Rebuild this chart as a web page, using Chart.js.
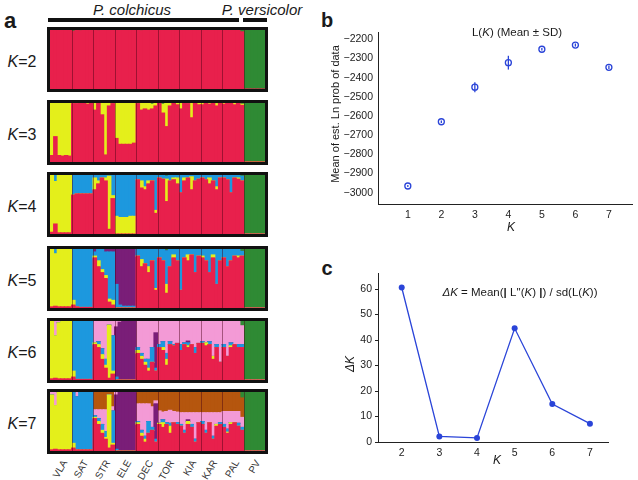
<!DOCTYPE html>
<html>
<head>
<meta charset="utf-8">
<script src="https://cdn.jsdelivr.net/npm/chart.js@4.4.1/dist/chart.umd.min.js"></script>
<style>
    body { margin: 0; background: #fff; font-family: "Liberation Sans", Arial, sans-serif; color: #1a1a1a; }
    #page { position: relative; width: 638px; height: 480px; overflow: hidden; }
    .abs { position: absolute; white-space: nowrap; }
    .c { transform: translate(-50%, -50%); }
    .box { position: absolute; left: 47px; width: 215px; height: 59px; border: 3px solid #111; }
    .box canvas { display: block; }
    .klab { position: absolute; font-size: 16px; transform: translate(-50%, -50%); }
    .pop { position: absolute; width: 50px; text-align: right; font-size: 10px; line-height: 12px; color: #333;
           transform-origin: 100% 50%; transform: rotate(-60deg); }
    .panel { position: absolute; font-weight: bold; }
</style>
</head>
<body>
<div id="page">
    <div class="panel abs c" style="left:10px; top:21px; font-size:22px;">a</div>
    <div class="panel abs c" style="left:327px; top:20px; font-size:20px;">b</div>
    <div class="panel abs c" style="left:327px; top:268px; font-size:20px;">c</div>

    <div class="abs c" style="left:132px; top:9px; font-size:15px; font-style:italic;">P. colchicus</div>
    <div class="abs c" style="left:262px; top:9px; font-size:15px; font-style:italic;">P. versicolor</div>
    <div class="abs" style="left:48px; top:18px; width:191px; height:4px; background:#111;"></div>
    <div class="abs" style="left:243px; top:18px; width:24px; height:4px; background:#111;"></div>

    <div id="structure"></div>
    <div id="popLabels"></div>

    <canvas id="lnChart" width="308" height="240" style="position:absolute; left:330px; top:0;"></canvas>
    <canvas id="deltaChart" width="308" height="240" style="position:absolute; left:330px; top:240px;"></canvas>

    <div class="abs c" style="left:517px; top:32px; font-size:11.5px;">L(<i>K</i>) (Mean ± SD)</div>
    <div class="abs c" style="left:335px; top:114px; font-size:11px; transform:translate(-50%,-50%) rotate(-90deg);">Mean of est. Ln prob of data</div>
    <div class="abs c" style="left:511px; top:227px; font-size:12px; font-style:italic;">K</div>

    <div class="abs c" style="left:520px; top:292px; font-size:11.5px;"><i>ΔK</i> = Mean(<b>|</b> L''(<i>K</i>) <b>|</b>) / sd(L(<i>K</i>))</div>
    <div class="abs c" style="left:350px; top:364px; font-size:12px; font-style:italic; transform:translate(-50%,-50%) rotate(-90deg);">ΔK</div>
    <div class="abs c" style="left:497px; top:460px; font-size:12px; font-style:italic;">K</div>
</div>

<script>
// populations, 6 individuals drawn per population
const populations = ['VLA', 'SAT', 'STR', 'ELE', 'DEC', 'TOR', 'KIA', 'KAR', 'PAL', 'PV'];
const perPop = 6;

const clusterColors = {
    red: '#e8204c', yellow: '#e4ef1b', blue: '#1d98de', purple: '#7a1e78',
    pink: '#f39ad6', brown: '#b5560e', green: '#2f8a34'
};

// membership (%) per individual, order VLA .. PV
const k2Red = [100,100,100,100,100,100, 98,100,99,100,100,100, 100,99,100,100,100,100, 100,100,100,100,100,100, 100,99,100,100,100,100, 100,100,100,100,100,100, 100,100,100,100,100,100, 100,100,100,100,100,100, 100,100,100,100,100,97, 0,0,0,0,0,0];
const k2Green = [0,0,0,0,0,0, 2,0,1,0,0,0, 0,1,0,0,0,0, 0,0,0,0,0,0, 0,1,0,0,0,0, 0,0,0,0,0,0, 0,0,0,0,0,0, 0,0,0,0,0,0, 0,0,0,0,0,3, 100,100,100,100,100,100];

const k3Red = [11,43,11,10,11,10, 99,99,100,100,98,100, 88,100,80,12,95,99, 40,30,30,30,30,32, 99,88,90,88,90,95, 100,83,60,95,100,97, 90,100,99,75,100,97, 97,100,98,100,95,100, 98,100,100,97,100,96, 0,0,0,0,0,0];
const k3Yellow = [89,57,89,90,89,90, 0,0,0,0,2,0, 12,0,20,88,5,0, 60,70,70,70,70,68, 0,12,10,12,8,5, 0,15,40,5,0,3, 10,0,0,25,0,3, 3,0,2,0,4,0, 2,0,0,3,0,2, 0,0,0,0,0,0];
const k3Green = [0,0,0,0,0,0, 1,1,0,0,0,0, 0,0,0,0,0,1, 0,0,0,0,0,0, 1,0,0,0,2,0, 0,2,0,0,0,0, 0,0,1,0,0,0, 0,0,0,0,1,0, 0,0,0,0,0,2, 100,100,100,100,100,100];

const k4Red = [3,17,2,2,2,2, 66,68,68,68,68,68, 75,85,95,90,8,60, 0,0,0,0,0,0, 92,78,75,85,90,35, 95,93,55,90,92,85, 70,90,95,75,90,93, 95,92,85,90,75,95, 95,92,70,95,93,90, 0,0,0,0,0,0];
const k4Yellow = [97,72,98,98,98,98, 0,0,0,0,0,0, 20,5,0,5,90,5, 30,28,28,28,30,30, 0,12,5,5,0,5, 0,0,38,0,3,10, 0,5,0,22,0,0, 0,0,10,0,5,0, 0,0,0,0,2,0, 0,0,0,0,0,0];
const k4Blue = [0,11,0,0,0,0, 34,32,32,32,32,32, 5,10,5,5,2,35, 70,72,72,72,70,70, 8,10,20,10,10,60, 5,7,5,10,5,5, 30,5,5,3,10,7, 5,8,5,10,20,5, 5,8,30,5,5,8, 0,0,0,0,0,0];
const k4Green = [0,0,0,0,0,0, 0,0,0,0,0,0, 0,0,0,0,0,0, 0,0,0,0,0,0, 0,0,0,0,0,0, 0,0,2,0,0,0, 0,0,0,0,0,0, 0,0,0,0,0,0, 0,0,0,0,0,2, 100,100,100,100,100,100];

const k5Red = [2,3,2,2,2,2, 5,2,1,1,1,1, 85,70,60,50,10,5, 0,0,0,0,0,0, 88,70,75,60,80,30, 85,80,25,70,85,80, 30,85,80,90,60,88, 85,80,60,85,40,80, 85,70,80,88,85,88, 0,0,0,0,0,0];
const k5Yellow = [98,89,98,98,98,98, 8,0,0,0,0,0, 3,10,5,5,5,8, 0,0,0,0,0,0, 0,12,0,10,0,3, 0,0,15,0,5,0, 0,0,10,0,0,0, 3,0,0,5,0,0, 0,0,0,0,3,0, 0,0,0,0,0,0];
const k5Blue = [0,8,0,0,0,0, 87,98,99,99,99,99, 7,20,35,40,80,82, 40,5,3,3,3,3, 12,18,25,30,20,67, 15,20,57,30,10,20, 70,15,10,10,40,12, 12,20,40,10,60,20, 15,30,20,12,12,8, 0,0,0,0,0,0];
const k5Purple = [0,0,0,0,0,0, 0,0,0,0,0,0, 5,0,0,5,5,5, 60,95,97,97,97,97, 0,0,0,0,0,0, 0,0,0,0,0,0, 0,0,0,0,0,0, 0,0,0,0,0,0, 0,0,0,0,0,0, 0,0,0,0,0,0];
const k5Green = [0,0,0,0,0,0, 0,0,0,0,0,0, 0,0,0,0,0,0, 0,0,0,0,0,0, 0,0,0,0,0,0, 0,0,3,0,0,0, 0,0,0,0,0,0, 0,0,0,0,0,0, 0,0,0,0,0,4, 100,100,100,100,100,100];

const k6Red = [2,3,2,2,2,2, 5,1,1,1,1,1, 60,55,35,20,3,10, 0,0,0,0,0,0, 45,35,25,15,30,15, 55,50,25,60,58,62, 50,60,55,60,45,62, 62,58,60,35,55,30, 55,40,55,60,55,55, 0,0,0,0,0,0];
const k6Yellow = [98,72,95,98,98,98, 10,0,0,0,0,0, 3,5,8,5,90,5, 0,0,0,0,0,0, 5,5,5,5,0,0, 0,5,10,0,0,0, 0,0,3,0,0,0, 0,5,0,5,0,0, 0,0,3,0,0,0, 0,0,0,0,0,0];
const k6Blue = [0,0,0,0,0,0, 85,99,99,99,99,99, 0,5,10,10,0,60, 5,0,0,0,0,0, 5,5,5,15,25,5, 5,10,10,5,2,0, 10,3,5,0,10,0, 3,0,5,0,5,0, 5,0,5,0,5,5, 0,0,0,0,0,0];
const k6Purple = [0,0,0,0,0,0, 0,0,0,0,0,0, 0,0,0,0,0,0, 85,98,100,100,100,100, 0,0,0,0,0,60, 0,0,0,0,0,0, 0,0,3,0,0,0, 0,0,0,0,0,0, 0,0,0,0,0,0, 0,0,0,0,0,0];
const k6Pink = [0,25,3,0,0,0, 0,0,0,0,0,0, 37,35,47,65,7,25, 10,2,0,0,0,0, 45,55,65,65,45,20, 40,35,55,35,40,38, 40,37,34,40,45,38, 35,37,35,60,40,70, 40,60,37,40,40,32, 0,0,0,0,0,0];
const k6Green = [0,0,0,0,0,0, 0,0,0,0,0,0, 0,0,0,0,0,0, 0,0,0,0,0,0, 0,0,0,0,0,0, 0,0,0,0,0,0, 0,0,0,0,0,0, 0,0,0,0,0,0, 0,0,0,0,0,8, 100,100,100,100,100,100];

const k7Red = [2,3,2,2,2,2, 5,2,2,2,2,2, 55,45,30,20,5,10, 0,0,0,0,0,0, 45,25,15,30,35,15, 45,40,45,30,48,45, 42,30,45,40,15,48, 45,30,48,20,42,45, 40,30,45,48,42,35, 0,0,0,0,0,0];
const k7Yellow = [93,74,98,98,98,98, 8,0,0,0,0,0, 2,5,5,3,90,3, 0,0,0,0,0,0, 3,5,5,0,0,0, 2,8,0,12,0,0, 0,0,5,0,0,0, 0,0,0,0,3,0, 0,2,3,0,0,0, 0,0,0,0,0,0];
const k7Blue = [0,0,0,0,0,0, 87,90,98,98,98,98, 3,5,10,10,0,55, 3,0,0,0,0,0, 2,5,5,20,5,5, 0,5,3,5,0,3, 3,5,0,5,5,0, 5,5,0,5,0,3, 5,5,0,0,5,5, 0,0,0,0,0,0];
const k7Purple = [0,0,0,0,0,0, 0,0,0,0,0,0, 0,0,0,0,0,0, 92,100,100,100,100,100, 0,0,0,0,0,60, 0,0,0,0,0,0, 0,0,3,0,0,0, 0,0,0,0,0,0, 0,0,0,0,0,0, 0,0,0,0,0,0];
const k7Pink = [5,23,0,0,0,0, 0,8,0,0,0,0, 10,15,25,37,0,7, 5,0,0,0,0,0, 30,45,55,30,35,5, 21,13,19,22,19,18, 20,30,12,20,45,17, 15,30,17,40,20,17, 22,30,19,19,20,17, 0,0,0,0,0,0];
const k7Brown = [0,0,0,0,0,0, 0,0,0,0,0,0, 30,30,30,30,5,25, 0,0,0,0,0,0, 20,20,20,20,25,15, 32,34,33,31,33,34, 35,35,35,35,35,35, 35,35,35,35,35,35, 33,33,33,33,33,33, 0,0,0,0,0,0];
const k7Green = [0,0,0,0,0,0, 0,0,0,0,0,0, 0,0,0,0,0,0, 0,0,0,0,0,0, 0,0,0,0,0,0, 0,0,0,0,0,0, 0,0,0,0,0,0, 0,0,0,0,0,0, 0,0,0,0,0,10, 100,100,100,100,100,100];

// panel b: L(K) mean and SD
const kLn = [1, 2, 3, 4, 5, 6, 7];
const lnMean = [-2965, -2630, -2450, -2322, -2252, -2230, -2346];
const lnSd = [5, 6, 26, 36, 6, 8, 9];
const lnTicks = [-3000, -2900, -2800, -2700, -2600, -2500, -2400, -2300, -2200];

// panel c: delta K
const kDelta = [2, 3, 4, 5, 6, 7];
const deltaK = [60.6, 2.2, 1.6, 44.6, 14.9, 7.2];
const deltaTicks = [0, 10, 20, 30, 40, 50, 60];

const runs = [
    { k: 2, top: 27, series: [['red', k2Red], ['green', k2Green]] },
    { k: 3, top: 100, series: [['red', k3Red], ['yellow', k3Yellow], ['green', k3Green]] },
    { k: 4, top: 172, series: [['red', k4Red], ['yellow', k4Yellow], ['blue', k4Blue], ['green', k4Green]] },
    { k: 5, top: 246, series: [['red', k5Red], ['yellow', k5Yellow], ['blue', k5Blue], ['purple', k5Purple], ['green', k5Green]] },
    { k: 6, top: 318, series: [['red', k6Red], ['yellow', k6Yellow], ['blue', k6Blue], ['purple', k6Purple], ['pink', k6Pink], ['green', k6Green]] },
    { k: 7, top: 389, series: [['red', k7Red], ['yellow', k7Yellow], ['blue', k7Blue], ['purple', k7Purple], ['pink', k7Pink], ['brown', k7Brown], ['green', k7Green]] }
];

const lineBlue = '#2a44d8';
Chart.defaults.font.family = '"Liberation Sans", Arial, sans-serif';
Chart.defaults.color = '#222';

const individuals = [];
populations.forEach(p => {
    for (let i = 1; i <= perPop; i++) individuals.push(p + i);
});

// thin dark lines between populations
const popLines = {
    id: 'popLines',
    afterDatasetsDraw(chart) {
        const { ctx, chartArea, scales: { x } } = chart;
        ctx.save();
        ctx.strokeStyle = 'rgba(70,0,20,0.45)';
        ctx.lineWidth = 1;
        for (let p = 1; p < populations.length; p++) {
            const px = Math.round((x.getPixelForValue(p * perPop - 1) + x.getPixelForValue(p * perPop)) / 2) + 0.5;
            ctx.beginPath();
            ctx.moveTo(px, chartArea.top);
            ctx.lineTo(px, chartArea.bottom);
            ctx.stroke();
        }
        ctx.restore();
    }
};

function drawStructure(run) {
    const holder = document.getElementById('structure');
    const box = document.createElement('div');
    box.className = 'box';
    box.style.top = run.top + 'px';
    const canvas = document.createElement('canvas');
    canvas.width = 215;
    canvas.height = 59;
    box.appendChild(canvas);
    holder.appendChild(box);

    const lab = document.createElement('div');
    lab.className = 'klab';
    lab.style.left = '22px';
    lab.style.top = (run.top + 35) + 'px';
    lab.innerHTML = '<i>K</i>=' + run.k;
    holder.appendChild(lab);

    new Chart(canvas, {
        type: 'bar',
        data: {
            labels: individuals,
            datasets: run.series.map(([name, values]) => ({
                label: name,
                data: values,
                backgroundColor: clusterColors[name],
                borderWidth: 0,
                barPercentage: 1,
                categoryPercentage: 1,
                inflateAmount: 0.5
            }))
        },
        options: {
            responsive: false,
            animation: false,
            layout: { padding: 0 },
            plugins: { legend: { display: false }, tooltip: { enabled: false } },
            scales: {
                x: { stacked: true, display: false },
                y: { stacked: true, display: false, min: 0, max: 100 }
            }
        },
        plugins: [popLines]
    });
}

function drawPopLabels() {
    const holder = document.getElementById('popLabels');
    populations.forEach((p, i) => {
        const cx = 50 + 21.5 * (i + 0.5);
        const div = document.createElement('div');
        div.className = 'pop';
        div.style.left = (cx + 4 - 50) + 'px';
        div.style.top = (461 - 6) + 'px';
        div.innerText = p;
        holder.appendChild(div);
    });
}

// vertical SD bars for panel b
const errorBars = {
    id: 'errorBars',
    afterDatasetsDraw(chart) {
        const { ctx, scales: { x, y } } = chart;
        ctx.save();
        ctx.strokeStyle = lineBlue;
        ctx.lineWidth = 1.3;
        kLn.forEach((k, i) => {
            const px = x.getPixelForValue(k);
            ctx.beginPath();
            ctx.moveTo(px, y.getPixelForValue(lnMean[i] - lnSd[i]));
            ctx.lineTo(px, y.getPixelForValue(lnMean[i] + lnSd[i]));
            ctx.stroke();
        });
        ctx.restore();
    }
};

const minusLabel = v => v < 0 ? '\u2212' + Math.abs(v) : String(v);

function renderLnChart() {
    new Chart(document.getElementById('lnChart'), {
        type: 'scatter',
        data: {
            datasets: [{
                data: kLn.map((k, i) => ({ x: k, y: lnMean[i] })),
                pointRadius: 3,
                pointBorderWidth: 1.3,
                pointBorderColor: lineBlue,
                pointBackgroundColor: 'rgba(0,0,0,0)'
            }]
        },
        options: {
            responsive: false,
            animation: false,
            layout: { padding: { top: 32, right: 1, left: 0, bottom: 0 } },
            plugins: { legend: { display: false }, tooltip: { enabled: false } },
            scales: {
                x: {
                    type: 'linear', min: 0.11, max: 7.71,
                    afterBuildTicks: s => { s.ticks = kLn.map(v => ({ value: v })); },
                    afterFit: s => { s.height = 36; },
                    grid: { display: false, drawTicks: false },
                    border: { color: '#222', width: 1 },
                    ticks: { padding: 5, font: { size: 10.5 } }
                },
                y: {
                    min: -3059, max: -2162,
                    afterBuildTicks: s => { s.ticks = lnTicks.map(v => ({ value: v })); },
                    afterFit: s => { s.width = 48; },
                    grid: { display: false, drawTicks: false },
                    border: { color: '#222', width: 1 },
                    ticks: { padding: 5, font: { size: 10.5 }, callback: minusLabel }
                }
            }
        },
        plugins: [errorBars]
    });
}

function renderDeltaChart() {
    new Chart(document.getElementById('deltaChart'), {
        type: 'line',
        data: {
            datasets: [{
                data: kDelta.map((k, i) => ({ x: k, y: deltaK[i] })),
                borderColor: lineBlue,
                borderWidth: 1.3,
                pointRadius: 3,
                pointBorderWidth: 0,
                pointBackgroundColor: lineBlue,
                tension: 0,
                fill: false
            }]
        },
        options: {
            responsive: false,
            animation: false,
            layout: { padding: { top: 33, right: 30, left: 0, bottom: 0 } },
            plugins: { legend: { display: false }, tooltip: { enabled: false } },
            scales: {
                x: {
                    type: 'linear', min: 1.37, max: 7.48,
                    afterBuildTicks: s => { s.ticks = kDelta.map(v => ({ value: v })); },
                    afterFit: s => { s.height = 38; },
                    grid: { display: false, drawTicks: false },
                    border: { color: '#222', width: 1 },
                    ticks: { padding: 5, font: { size: 10.5 } }
                },
                y: {
                    min: 0, max: 66.3,
                    afterBuildTicks: s => { s.ticks = deltaTicks.map(v => ({ value: v })); },
                    afterFit: s => { s.width = 48; },
                    grid: { display: true, drawOnChartArea: false, drawTicks: true, tickLength: 3, color: '#222' },
                    border: { color: '#222', width: 1 },
                    ticks: { padding: 3, font: { size: 10.5 } }
                }
            }
        }
    });
}

runs.forEach(drawStructure);
drawPopLabels();
renderLnChart();
renderDeltaChart();
</script>
</body>
</html>
